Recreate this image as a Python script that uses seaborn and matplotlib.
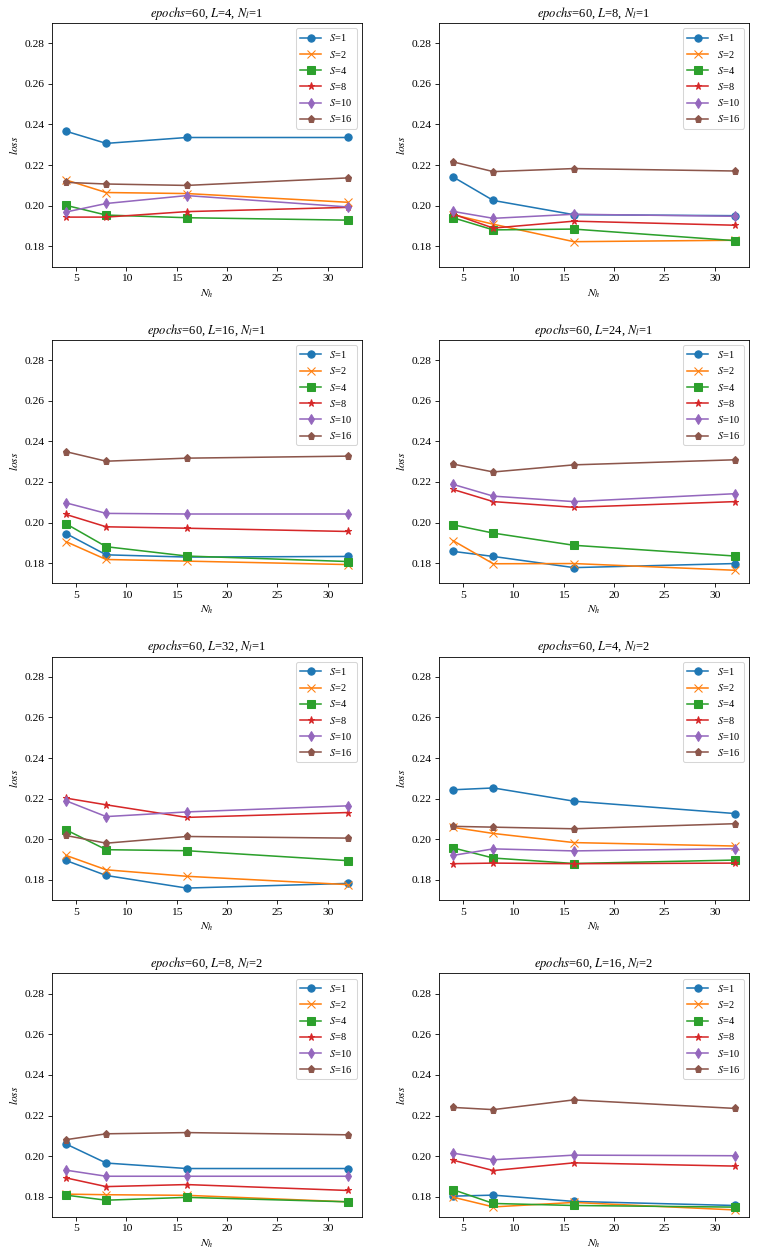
import numpy as np
import pandas as pd
import seaborn as sns
import matplotlib
matplotlib.use("Agg")
import matplotlib.pyplot as plt

plt.rcParams['font.family'] = ['Liberation Serif', 'DejaVu Serif']
plt.rcParams['mathtext.fontset'] = 'stix'

nh = [4, 8, 16, 32]
s_values = [1, 2, 4, 8, 10, 16]
markers = ['o', 'x', 's', '*', 'd', 'p']
colors = sns.color_palette("tab10", 6)

titles = [
    r"$epochs$=60, $L$=4, $N_l$=1",
    r"$epochs$=60, $L$=8, $N_l$=1",
    r"$epochs$=60, $L$=16, $N_l$=1",
    r"$epochs$=60, $L$=24, $N_l$=1",
    r"$epochs$=60, $L$=32, $N_l$=1",
    r"$epochs$=60, $L$=4, $N_l$=2",
    r"$epochs$=60, $L$=8, $N_l$=2",
    r"$epochs$=60, $L$=16, $N_l$=2",
]

# loss per panel, one row per S (1, 2, 4, 8, 10, 16), columns follow nh
loss_L4_nl1 = [
    [0.2367, 0.2307, 0.2336, 0.2336],
    [0.2127, 0.2065, 0.2060, 0.2017],
    [0.2002, 0.1954, 0.1941, 0.1929],
    [0.1944, 0.1944, 0.1971, 0.1992],
    [0.1969, 0.2011, 0.2050, 0.1994],
    [0.2115, 0.2107, 0.2100, 0.2137],
]
loss_L8_nl1 = [
    [0.2142, 0.2026, 0.1956, 0.1951],
    [0.1956, 0.1909, 0.1823, 0.1830],
    [0.1941, 0.1881, 0.1885, 0.1828],
    [0.1959, 0.1890, 0.1924, 0.1904],
    [0.1972, 0.1938, 0.1958, 0.1948],
    [0.2216, 0.2168, 0.2183, 0.2171],
]
loss_L16_nl1 = [
    [0.1946, 0.1841, 0.1830, 0.1833],
    [0.1906, 0.1818, 0.1810, 0.1793],
    [0.1994, 0.1881, 0.1835, 0.1808],
    [0.2040, 0.1979, 0.1972, 0.1956],
    [0.2097, 0.2045, 0.2042, 0.2042],
    [0.2349, 0.2302, 0.2317, 0.2327],
]
loss_L24_nl1 = [
    [0.1858, 0.1833, 0.1778, 0.1798],
    [0.1911, 0.1797, 0.1798, 0.1765],
    [0.1989, 0.1948, 0.1888, 0.1835],
    [0.2163, 0.2103, 0.2075, 0.2103],
    [0.2188, 0.2130, 0.2103, 0.2142],
    [0.2288, 0.2249, 0.2284, 0.2309],
]
loss_L32_nl1 = [
    [0.1896, 0.1822, 0.1760, 0.1783],
    [0.1921, 0.1850, 0.1818, 0.1777],
    [0.2047, 0.1949, 0.1944, 0.1895],
    [0.2203, 0.2170, 0.2108, 0.2132],
    [0.2190, 0.2112, 0.2135, 0.2165],
    [0.2019, 0.1981, 0.2014, 0.2006],
]
loss_L4_nl2 = [
    [0.2244, 0.2253, 0.2188, 0.2127],
    [0.2059, 0.2029, 0.1984, 0.1967],
    [0.1958, 0.1908, 0.1881, 0.1898],
    [0.1880, 0.1883, 0.1880, 0.1883],
    [0.1921, 0.1953, 0.1943, 0.1954],
    [0.2064, 0.2060, 0.2052, 0.2077],
]
loss_L8_nl2 = [
    [0.2060, 0.1966, 0.1939, 0.1939],
    [0.1813, 0.1810, 0.1807, 0.1775],
    [0.1808, 0.1783, 0.1797, 0.1775],
    [0.1893, 0.1850, 0.1860, 0.1831],
    [0.1931, 0.1901, 0.1901, 0.1901],
    [0.2081, 0.2110, 0.2116, 0.2105],
]
loss_L16_nl2 = [
    [0.1803, 0.1808, 0.1777, 0.1757],
    [0.1798, 0.1750, 0.1772, 0.1735],
    [0.1835, 0.1767, 0.1757, 0.1749],
    [0.1980, 0.1929, 0.1967, 0.1951],
    [0.2015, 0.1982, 0.2005, 0.2002],
    [0.2240, 0.2229, 0.2277, 0.2235],
]

panels = [loss_L4_nl1, loss_L8_nl1, loss_L16_nl1, loss_L24_nl1,
          loss_L32_nl1, loss_L4_nl2, loss_L8_nl2, loss_L16_nl2]

fig, axes = plt.subplots(4, 2, figsize=(10.16, 16.747), dpi=75)
fig.subplots_adjust(left=0.068, right=0.983, top=0.9817, bottom=0.031,
                    wspace=0.248, hspace=0.30)

for ax, title, data in zip(axes.flat, titles, panels):
    for s, m, c, vals in zip(s_values, markers, colors, data):
        sns.lineplot(x=nh, y=vals, ax=ax, marker=m, color=c,
                     markeredgecolor=c, markeredgewidth=1, markersize=7,
                     linewidth=1.5, label=f"$S$={s}")
    ax.set_ylim(0.17, 0.29)
    ax.set_yticks([0.18, 0.20, 0.22, 0.24, 0.26, 0.28])
    ax.tick_params(labelsize=11)
    ax.set_title(title, fontsize=12)
    ax.set_xlabel(r"$N_h$", fontsize=11)
    ax.set_ylabel(r"$loss$", fontsize=11)
    ax.legend(loc="upper right")

plt.savefig("out.png", dpi=75)
